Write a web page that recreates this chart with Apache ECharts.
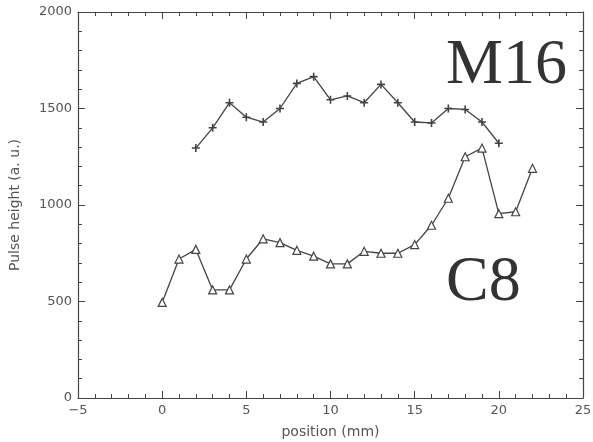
<!DOCTYPE html>
<html>
<head>
<meta charset="utf-8">
<script src="https://cdn.jsdelivr.net/npm/echarts@6/dist/echarts.min.js"></script>
<style>
  html, body { margin: 0; padding: 0; background: #fff; }
  #chart { width: 593px; height: 442px; }
</style>
</head>
<body>
<div id="chart"></div>
<script>
// positions (mm) and pulse heights
const m16Pos = [2, 3, 4, 5, 6, 7, 8, 9, 10, 11, 12, 13, 14, 15, 16, 17, 18, 19, 20];
const m16Height = [1295, 1400, 1530, 1455, 1430, 1500, 1630, 1665, 1545, 1565, 1530, 1625, 1530, 1430, 1425, 1500, 1495, 1430, 1320];

const c8Pos = [0, 1, 2, 3, 4, 5, 6, 7, 8, 9, 10, 11, 12, 13, 14, 15, 16, 17, 18, 19, 20, 21, 22];
const c8Height = [495, 720, 770, 560, 560, 720, 825, 805, 765, 735, 695, 695, 760, 750, 750, 795, 895, 1035, 1250, 1295, 955, 965, 1190];

const xTicks = { min: -5, max: 25, step: 5 };
const yTicks = { min: 0, max: 2000, step: 500 };

const lineColor = '#444';
const textColor = '#555';

const toPairs = (xs, ys) => xs.map((x, i) => [x, ys[i]]);

const chart = echarts.init(document.getElementById('chart'));

const baseAxis = {
  type: 'value',
  axisLine: { show: true, onZero: false, lineStyle: { color: lineColor, width: 1.2 } },
  axisTick: { show: true, inside: true, length: 7, lineStyle: { color: lineColor } },
  minorTick: { show: true, splitNumber: 5, length: 4, lineStyle: { color: lineColor } },
  splitLine: { show: false }
};

const tickLabel = {
  color: textColor, fontFamily: 'DejaVu Sans', fontSize: 13, margin: 6,
  formatter: v => String(v).replace('-', '\u2212')
};
const nameStyle = { color: textColor, fontFamily: 'DejaVu Sans', fontSize: 14 };

chart.setOption({
  animation: false,
  backgroundColor: '#fff',
  grid: { left: 78, right: 10, top: 12, bottom: 44, outerBoundsMode: 'none' },
  xAxis: [
    {
      ...baseAxis,
      min: xTicks.min, max: xTicks.max, interval: xTicks.step,
      position: 'bottom',
      name: 'position (mm)',
      nameLocation: 'middle',
      nameGap: 27,
      nameTextStyle: nameStyle,
      axisLabel: tickLabel
    },
    {
      ...baseAxis,
      min: xTicks.min, max: xTicks.max, interval: xTicks.step,
      position: 'top',
      axisLabel: { show: false }
    }
  ],
  yAxis: [
    {
      ...baseAxis,
      min: yTicks.min, max: yTicks.max, interval: yTicks.step,
      position: 'left',
      name: 'Pulse height (a. u.)',
      nameLocation: 'middle',
      nameGap: 56,
      nameTextStyle: nameStyle,
      axisLabel: tickLabel
    },
    {
      ...baseAxis,
      min: yTicks.min, max: yTicks.max, interval: yTicks.step,
      position: 'right',
      axisLabel: { show: false }
    }
  ],
  series: [
    {
      name: 'M16',
      type: 'line',
      data: toPairs(m16Pos, m16Height),
      symbol: 'path://M4,0H6V4H10V6H6V10H4V6H0V4H4Z',
      symbolSize: 8,
      showAllSymbol: true,
      lineStyle: { color: lineColor, width: 1.3 },
      itemStyle: { color: lineColor }
    },
    {
      name: 'C8',
      type: 'line',
      data: toPairs(c8Pos, c8Height),
      symbol: 'triangle',
      symbolSize: 8,
      showAllSymbol: true,
      lineStyle: { color: lineColor, width: 1.3 },
      itemStyle: { color: '#fff', borderColor: lineColor, borderWidth: 1.2 }
    }
  ],
  graphic: [
    {
      type: 'text', left: 446, top: 34,
      style: { text: 'M16', fill: '#333', font: '64px "Liberation Serif"' }
    },
    {
      type: 'text', left: 446, top: 251,
      style: { text: 'C8', fill: '#333', font: '64px "Liberation Serif"' }
    }
  ]
});
</script>
</body>
</html>
